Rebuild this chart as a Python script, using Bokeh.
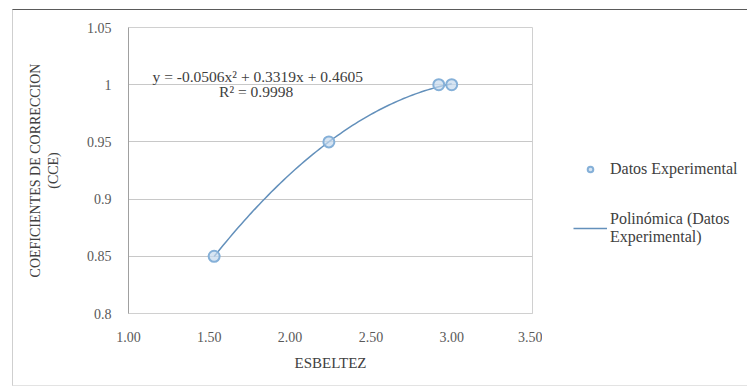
import numpy as np
from bokeh.plotting import figure
from bokeh.layouts import row
from bokeh.models import (Range1d, FixedTicker, NumeralTickFormatter, Legend,
                          LegendItem, Label)
from bokeh.embed import file_html
from bokeh.resources import INLINE

# ---- data ----
esbeltez = [1.53, 2.24, 2.92, 3.00]
coef_correccion = [0.85, 0.95, 1.00, 1.00]
poly_coeffs = [-0.0506, 0.3319, 0.4605]   # trendline y = a x^2 + b x + c
r_squared = 0.9998
x_ticks = [1.0, 1.5, 2.0, 2.5, 3.0, 3.5]
y_ticks = [0.8, 0.85, 0.9, 0.95, 1.0, 1.05]
y_tick_labels = ["0.8", "0.85", "0.9", "0.95", "1", "1.05"]
legend_labels = ["Datos Experimental", "Polinómica (Datos\nExperimental)"]

FONT = "Liberation Serif"
H = 375
PT_STYLE = dict(marker="circle", size=11, fill_color="#c6daee", fill_alpha=0.7,
                line_color="#85b0d8", line_width=2)
LN_STYLE = dict(line_color="#6390bb", line_width=1.5)

p = figure(width=529, height=H, output_backend="svg", toolbar_location=None,
           x_range=Range1d(1.0, 3.5), y_range=Range1d(0.8, 1.05),
           min_border_left=115, min_border_right=10, min_border_top=17,
           min_border_bottom=72)
p.background_fill_color = "white"
p.border_fill_color = "white"
p.outline_line_color = "#d0d0d0"
p.outline_line_width = 1

p.xgrid.grid_line_color = None
p.ygrid.grid_line_color = "#c8c8c8"
p.ygrid.grid_line_width = 1

p.xaxis.ticker = FixedTicker(ticks=x_ticks)
p.xaxis.formatter = NumeralTickFormatter(format="0.00")
p.yaxis.ticker = FixedTicker(ticks=y_ticks)
p.yaxis.major_label_overrides = {t: l for t, l in zip(y_ticks, y_tick_labels)}
for ax in (p.xaxis, p.yaxis):
    ax.major_tick_line_color = None
    ax.minor_tick_line_color = None
    ax.major_label_text_font = FONT
    ax.major_label_text_font_size = "14px"
    ax.major_label_text_color = "#595959"
    ax.axis_label_text_font = FONT
    ax.axis_label_text_font_style = "normal"
    ax.axis_label_text_color = "#404040"
p.xaxis.axis_label_text_font_size = "15px"
p.yaxis.axis_label_text_font_size = "14px"
p.xaxis.axis_line_color = "#d0d0d0"
p.yaxis.axis_line_color = "#a0a0a0"
p.xaxis.axis_label = "ESBELTEZ"
p.yaxis.axis_label = "COEFICIENTES DE CORRECCION\n(CCE)"
p.xaxis.major_label_standoff = 12
p.yaxis.major_label_standoff = 11
p.xaxis.axis_label_standoff = 10
p.yaxis.axis_label_standoff = 23

# trendline from the displayed polynomial
xs = np.linspace(min(esbeltez), max(esbeltez), 80)
ys = np.polyval(poly_coeffs, xs)
p.line(xs, ys, **LN_STYLE)
p.scatter(esbeltez, coef_correccion, **PT_STYLE)

eq = "y = -0.0506x² + 0.3319x + 0.4605"
p.add_layout(Label(x=1.80, y=1.007, text=eq, text_font=FONT,
                   text_font_size="15.5px", text_color="#404040",
                   text_align="center", text_baseline="middle"))
p.add_layout(Label(x=1.79, y=0.9939, text="R² = %.4f" % r_squared,
                   text_font=FONT, text_font_size="15.5px", text_color="#404040",
                   text_align="center", text_baseline="middle"))

# legend panel (separate figure to the right of the chart)
q = figure(width=205, height=H, output_backend="svg", toolbar_location=None,
           x_range=Range1d(0, 1), y_range=Range1d(0, 1),
           min_border_left=0, min_border_right=0, min_border_top=0,
           min_border_bottom=0)
q.axis.visible = False
q.grid.grid_line_color = None
q.outline_line_color = None
q.background_fill_color = "white"
q.border_fill_color = "white"
# legend glyph renderers (data lie outside this panel's visible range)
r_pts = q.scatter(esbeltez, coef_correccion, **PT_STYLE)
r_ln = q.line(xs, ys, **LN_STYLE)
legend = Legend(items=[LegendItem(label=legend_labels[0], renderers=[r_pts]),
                       LegendItem(label=legend_labels[1], renderers=[r_ln])],
                location=(31, 67), orientation="vertical",
                label_text_font=FONT, label_text_font_size="16px",
                label_text_color="#404040", glyph_width=34, glyph_height=14,
                label_standoff=3, spacing=32, padding=0, margin=0,
                border_line_color=None, background_fill_alpha=0)
q.add_layout(legend, "center")

layout = row(p, q)
layout.styles = {"margin-top": "9px", "margin-left": "12px",
                 "border-top": "1px solid #5a5a5a",
                 "border-left": "1px solid #cfcfcf",
                 "border-bottom": "1px solid #e3e3e3"}
open("out.html", "w").write(file_html(layout, INLINE))
